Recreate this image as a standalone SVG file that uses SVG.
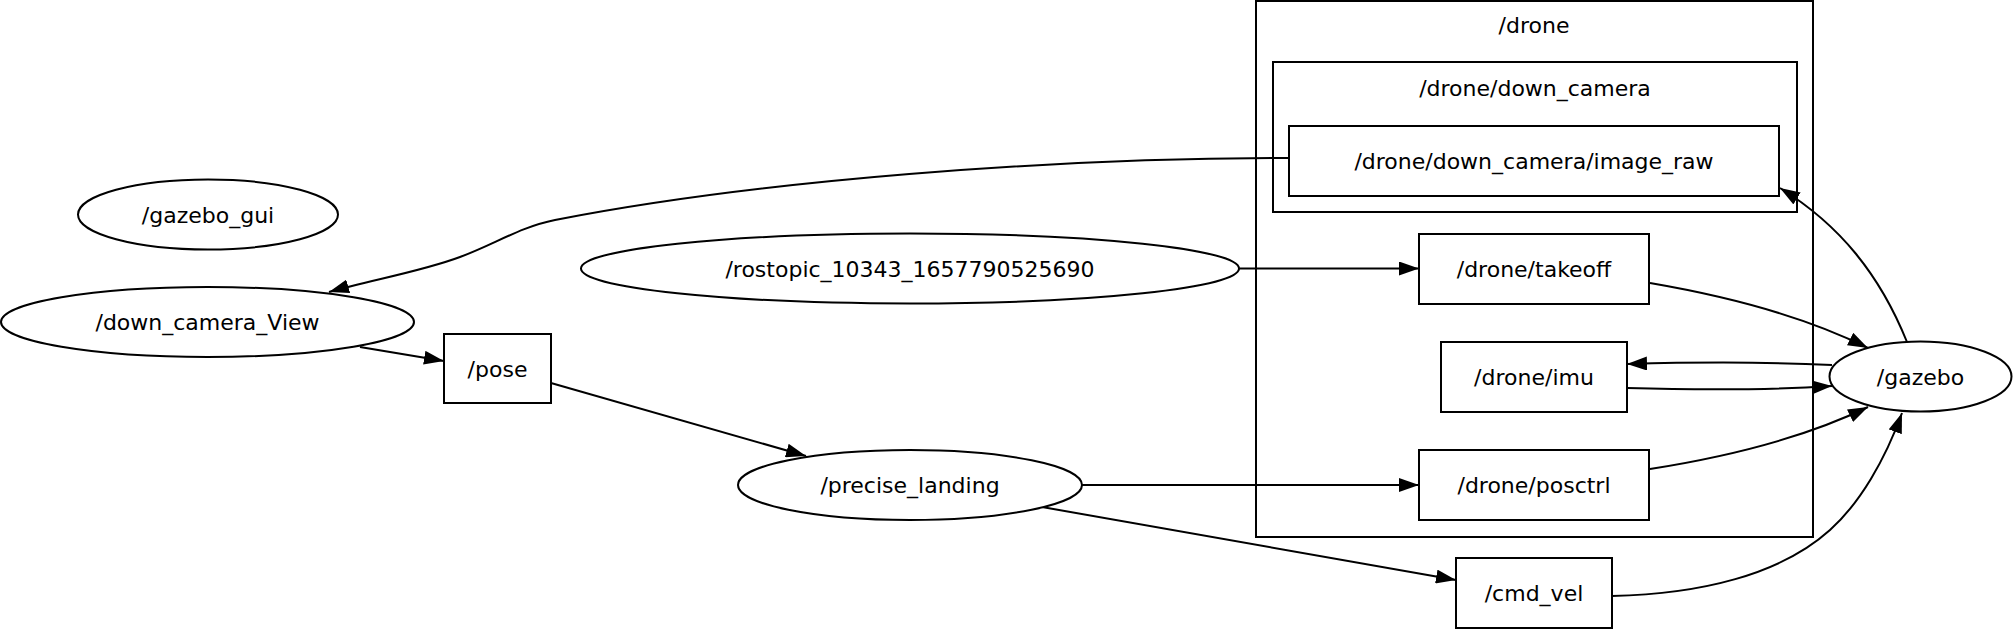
<svg xmlns="http://www.w3.org/2000/svg" width="2013" height="629" viewBox="0 0 2013 629">
<style>
.n{fill:#fff;stroke:#000;stroke-width:2}
.c{fill:none;stroke:#000;stroke-width:2}
.e{fill:none;stroke:#000;stroke-width:2;marker-end:url(#ah)}
text{font-family:"DejaVu Sans","Liberation Sans",sans-serif;font-size:22px;text-anchor:middle;fill:#000}
</style>
<defs>
<marker id="ah" viewBox="0 0 20 14" refX="20" refY="7" markerWidth="20" markerHeight="14" markerUnits="userSpaceOnUse" orient="auto">
<path d="M0,0 L20,7 L0,14 z" fill="#000"/>
</marker>
</defs>
<rect width="2013" height="629" fill="#fff"/>
<g id="cluster_drone">
<rect class="c" x="1256" y="1" width="557" height="536"/>
<text x="1534" y="33">/drone</text>
</g>
<g id="cluster_down_camera">
<rect class="c" x="1273" y="62" width="524" height="150"/>
<text x="1535" y="96">/drone/down_camera</text>
</g>
<g id="connectors">
<path class="e" d="M1289,158 C1050,158 760,180 555,220 C520,227 495,244 460,257 C420,272 370,280 329,292"/>
<path class="e" d="M360,347 L444,361"/>
<path class="e" d="M551,383 L806,456"/>
<path class="e" d="M1239,268.5 L1419,268.5"/>
<path class="e" d="M1082,485 L1419,485"/>
<path class="e" d="M1042,507 L1456,580"/>
<path class="e" d="M1650,283 C1720,295 1800,314 1868,348"/>
<path class="e" d="M1832,365 C1770,362 1700,362 1627,364"/>
<path class="e" d="M1627,388 C1700,390 1770,390 1832,386"/>
<path class="e" d="M1650,469 C1720,458 1800,440 1868,407"/>
<path class="e" d="M1612,596 C1700,594 1780,575 1830,530 C1860,503 1885,460 1902,413"/>
<path class="e" d="M1907,342 C1880,275 1840,225 1780,188"/>
</g>
<g id="image_raw">
<rect class="n" x="1289" y="126" width="490" height="70"/>
<text x="1534" y="169">/drone/down_camera/image_raw</text>
</g>
<g id="gazebo_gui">
<ellipse class="n" cx="208" cy="214.5" rx="130" ry="35"/>
<text x="208" y="222.5">/gazebo_gui</text>
</g>
<g id="down_camera_View">
<ellipse class="n" cx="207.5" cy="322" rx="206.5" ry="35"/>
<text x="207.5" y="330">/down_camera_View</text>
</g>
<g id="rostopic">
<ellipse class="n" cx="910" cy="268.5" rx="329" ry="35"/>
<text x="910" y="276.5">/rostopic_10343_1657790525690</text>
</g>
<g id="pose">
<rect class="n" x="444" y="334" width="107" height="69"/>
<text x="497.5" y="376.5">/pose</text>
</g>
<g id="precise_landing">
<ellipse class="n" cx="910" cy="485" rx="172" ry="35"/>
<text x="910" y="493">/precise_landing</text>
</g>
<g id="takeoff">
<rect class="n" x="1419" y="234" width="230" height="70"/>
<text x="1534" y="277">/drone/takeoff</text>
</g>
<g id="imu">
<rect class="n" x="1441" y="342" width="186" height="70"/>
<text x="1534" y="385">/drone/imu</text>
</g>
<g id="posctrl">
<rect class="n" x="1419" y="450" width="230" height="70"/>
<text x="1534" y="493">/drone/posctrl</text>
</g>
<g id="cmd_vel">
<rect class="n" x="1456" y="558" width="156" height="70"/>
<text x="1534" y="601">/cmd_vel</text>
</g>
<g id="gazebo">
<ellipse class="n" cx="1920.5" cy="376.5" rx="91" ry="35"/>
<text x="1920.5" y="384.5">/gazebo</text>
</g>
</svg>
